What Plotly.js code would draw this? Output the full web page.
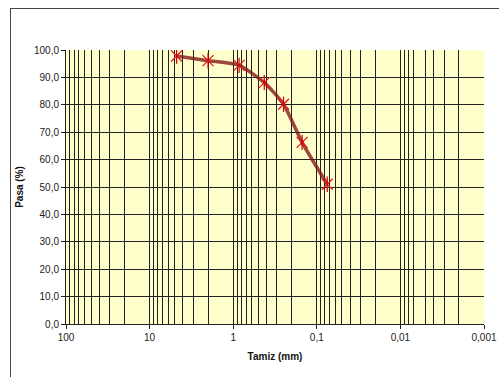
<!DOCTYPE html>
<html>
<head>
<meta charset="utf-8">
<script src="https://cdn.plot.ly/plotly-3.0.1.min.js"></script>
<style>
html,body{margin:0;padding:0;background:#fff;}
#chart{width:499px;height:377px;}
</style>
</head>
<body>
<div id="chart"></div>
<script>
// Sieve sizes (mm) and percent passing
const sieveSizes = [4.75, 2.0, 0.85, 0.425, 0.25, 0.15, 0.075];
const percentPassing = [97.8, 96.1, 94.4, 88.1, 80.2, 66.3, 51.0];

const xTickVals = [100, 10, 1, 0.1, 0.01, 0.001];
const xTickText = ['100', '10', '1', '0,1', '0,01', '0,001'];
const yTickVals = [0, 10, 20, 30, 40, 50, 60, 70, 80, 90, 100];
const yTickText = ['0,0', '10,0', '20,0', '30,0', '40,0', '50,0', '60,0', '70,0', '80,0', '90,0', '100,0'];

// vertical gridline positions (1..9 in every decade, excluding the right edge)
const decades = [10, 1, 0.1, 0.01, 0.001];
const gridVals = [];
decades.forEach(d => { for (let m = 1; m <= 9; m++) gridVals.push(+(m * d).toPrecision(3)); });
const vGrid = gridVals.filter(v => v > 0.001 && v < 100);

const W = 499, H = 377;
const M = {l: 66, r: 15, t: 50, b: 53};
const pw = W - M.l - M.r, ph = H - M.t - M.b;
const px = x => (x - M.l) / pw;
const py = y => (H - M.b - y) / ph;

const traces = [
  {
    x: sieveSizes, y: percentPassing, type: 'scatter', mode: 'lines',
    line: {color: 'rgba(128,20,20,0.78)', width: 3.5, shape: 'spline', smoothing: 0.6},
    hoverinfo: 'skip', showlegend: false
  },
  {
    x: sieveSizes, y: percentPassing, type: 'scatter', mode: 'markers',
    marker: {symbol: 'x-thin-open', size: 11, line: {color: '#ee1111', width: 1.2}, color: '#ee1111'},
    showlegend: false
  },
  {
    x: sieveSizes, y: percentPassing, type: 'scatter', mode: 'markers',
    marker: {symbol: 'line-ns-open', size: 11, line: {color: '#cc0000', width: 1.2}, color: '#cc0000'},
    showlegend: false
  }
];

const tickFont = {family: 'Liberation Sans, Arial, sans-serif', size: 10, color: '#222'};
const titleFont = {family: 'Liberation Sans, Arial, sans-serif', size: 10, color: '#111', weight: 'bold'};

const layout = {
  width: W, height: H,
  margin: M,
  paper_bgcolor: '#ffffff',
  plot_bgcolor: '#ffffcc',
  showlegend: false,
  xaxis: {
    type: 'log', range: [2, -3], autorange: false,
    tickmode: 'array', tickvals: xTickVals, ticktext: xTickText,
    ticks: 'outside', ticklen: 4, tickwidth: 1, tickcolor: '#222',
    showgrid: false,
    minor: {tickmode: 'array', tickvals: vGrid, showgrid: true, gridcolor: '#222', gridwidth: 1, ticks: ''},
    showline: true, linecolor: '#222', linewidth: 1,
    zeroline: false, tickfont: tickFont,
    title: {text: 'Tamiz (mm)', font: titleFont, standoff: 10},
    automargin: false
  },
  yaxis: {
    range: [0, 100], autorange: false,
    tickmode: 'array', tickvals: yTickVals, ticktext: yTickText,
    ticks: 'outside', ticklen: 4, tickwidth: 1, tickcolor: '#222',
    showgrid: true, gridcolor: '#222', gridwidth: 1,
    showline: true, linecolor: '#222', linewidth: 1,
    zeroline: false, tickfont: tickFont,
    title: {text: 'Pasa (%)', font: titleFont, standoff: 8},
    automargin: false
  },
  shapes: [
    {type: 'line', xref: 'paper', yref: 'paper', x0: px(10.5), x1: px(10.5), y0: py(8.5), y1: py(377), line: {color: '#444', width: 1}},
    {type: 'line', xref: 'paper', yref: 'paper', x0: px(10), x1: px(499), y0: py(8.5), y1: py(8.5), line: {color: '#444', width: 1}}
  ]
};

Plotly.newPlot('chart', traces, layout, {displayModeBar: false, staticPlot: true}).then(() => {
  // drop any vertical gridline sitting on the right-hand edge of the plot
  document.querySelectorAll('#chart .xgrid, #chart .xminor').forEach(el => {
    const t = el.getAttribute('transform') || '';
    const m = t.match(/translate\(([-\d.]+)/);
    if (m && Math.abs(parseFloat(m[1]) - pw) < 1.5) el.remove();
  });
});
</script>
</body>
</html>
